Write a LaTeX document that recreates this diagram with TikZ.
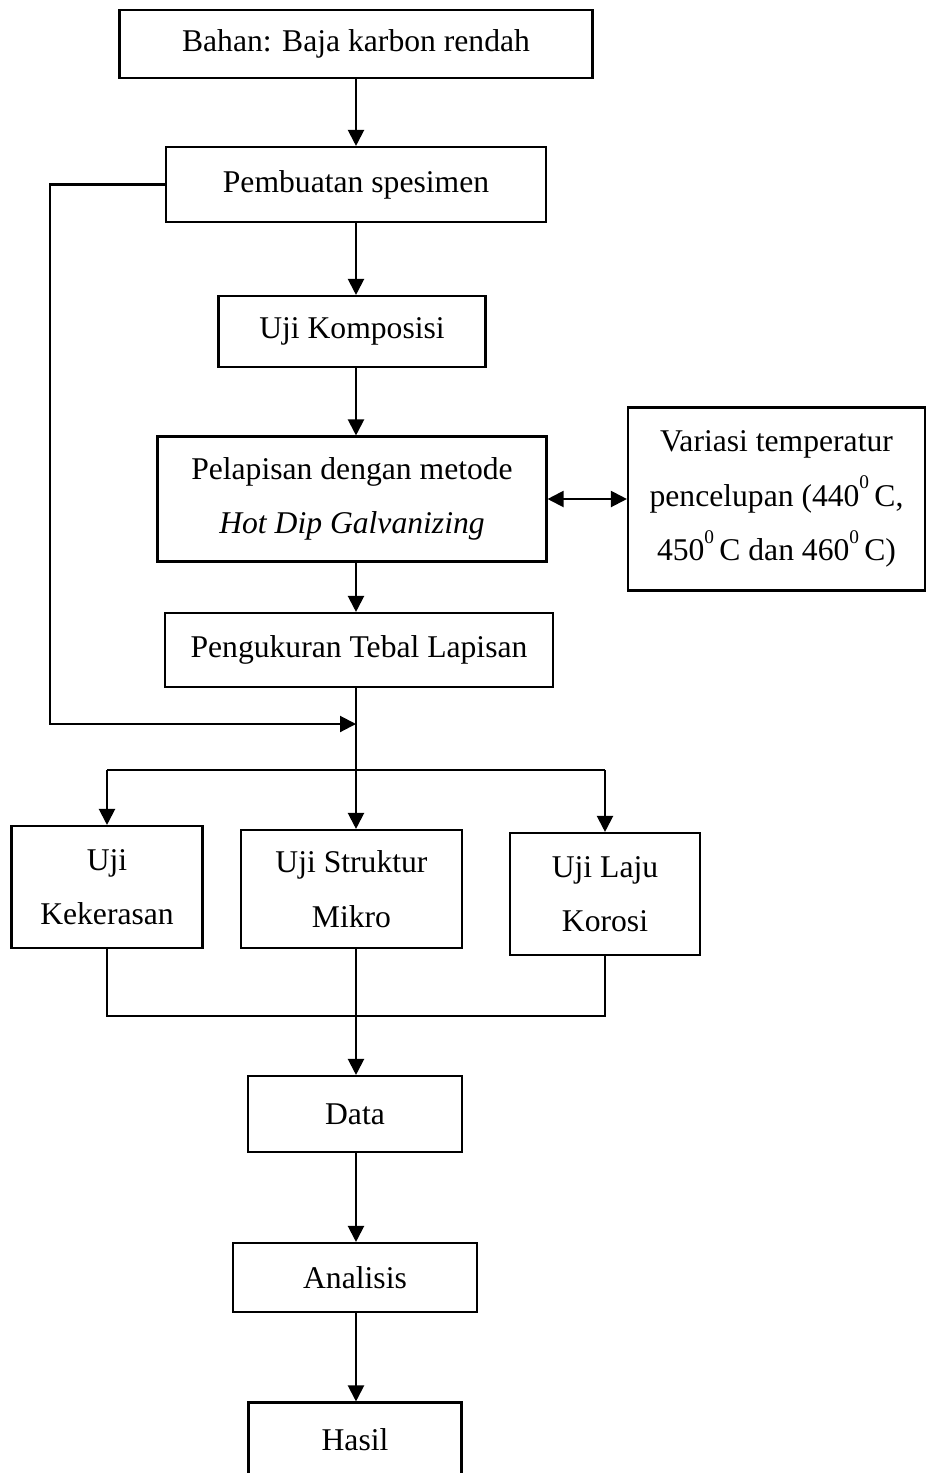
\documentclass[tikz,border=0pt]{standalone}
\usepackage{fontspec}
\setmainfont{Liberation Serif}
\usepackage{tikz}
\usetikzlibrary{arrows.meta}

\newcommand{\pangkat}[1]{\raisebox{0.55em}{\fontsize{11}{11}\selectfont #1}}

\begin{document}
\begin{tikzpicture}[
    box/.style={
        draw,
        line width=1.2pt,
        align=center,
        font=\fontsize{18}{31}\selectfont
    },
    arrow/.style={-{Triangle[length=0.32cm,width=0.32cm]},line width=1.2pt},
    link/.style={line width=1.2pt}
]
\useasboundingbox (0,0) rectangle (18.54,-29.46);

\node[box, minimum width=9.46cm, minimum height=1.36cm] (bahan) at (7.12,-0.88) {Bahan: Baja karbon rendah};
\node[box, minimum width=7.6cm, minimum height=1.5cm] (spesimen) at (7.12,-3.69) {Pembuatan spesimen};
\node[box, minimum width=5.34cm, minimum height=1.42cm] (komposisi) at (7.04,-6.63) {Uji Komposisi};
\node[box, minimum width=7.78cm, minimum height=2.5cm] (pelapisan) at (7.04,-9.98)
{Pelapisan dengan metode\\ \textit{Hot Dip Galvanizing}};
\node[box, minimum width=5.94cm, minimum height=3.66cm] (variasi) at (15.53,-9.98)
{Variasi temperatur\\ pencelupan (440\pangkat{0}\,C,\\ 450\pangkat{0}\,C dan 460\pangkat{0}\,C)};
\node[box, minimum width=7.76cm, minimum height=1.48cm] (pengukuran) at (7.18,-13.0) {Pengukuran Tebal Lapisan};

\coordinate (join) at (7.12,-14.48);
\coordinate (split) at (7.12,-15.4);

\node[box, minimum width=3.82cm, minimum height=2.44cm] (kekerasan) at (2.14,-17.74) {Uji\\ Kekerasan};
\node[box, minimum width=4.42cm, minimum height=2.36cm] (struktur) at (7.03,-17.78) {Uji Struktur\\ Mikro};
\node[box, minimum width=3.8cm, minimum height=2.44cm] (korosi) at (12.1,-17.88) {Uji Laju\\ Korosi};

\coordinate (merge) at (7.12,-20.32);

\node[box, minimum width=4.28cm, minimum height=1.52cm] (data) at (7.1,-22.28) {Data};
\node[box, minimum width=4.88cm, minimum height=1.38cm] (analisis) at (7.1,-25.55) {Analisis};
\node[box, minimum width=4.26cm, minimum height=1.5cm] (hasil) at (7.1,-28.8) {Hasil};

\draw[arrow] (bahan) -- (spesimen);
\draw[arrow] (spesimen) -- (spesimen |- komposisi.north);
\draw[arrow] (spesimen |- komposisi.south) -- (spesimen |- pelapisan.north);
\draw[arrow] (spesimen |- pelapisan.south) -- (spesimen |- pengukuran.north);
\draw[{Triangle[length=0.32cm,width=0.32cm]}-{Triangle[length=0.32cm,width=0.32cm]},line width=1.2pt] (pelapisan) -- (variasi);

% balik dari spesimen
\draw[arrow] (spesimen.west) -- ++(-2.3,0) |- (join);

% cabang ke tiga pengujian
\draw[arrow] (spesimen |- pengukuran.south) -- (spesimen |- struktur.north);
\draw[link] (split -| kekerasan) -- (split -| korosi);
\draw[arrow] (split -| kekerasan) -- (kekerasan);
\draw[arrow] (split -| korosi) -- (korosi);

% gabung ke data
\draw[link] (kekerasan.south) |- (merge -| korosi) -- (korosi.south);
\draw[arrow] (spesimen |- struktur.south) -- (spesimen |- data.north);
\draw[arrow] (spesimen |- data.south) -- (spesimen |- analisis.north);
\draw[arrow] (spesimen |- analisis.south) -- (spesimen |- hasil.north);

\end{tikzpicture}
\end{document}
